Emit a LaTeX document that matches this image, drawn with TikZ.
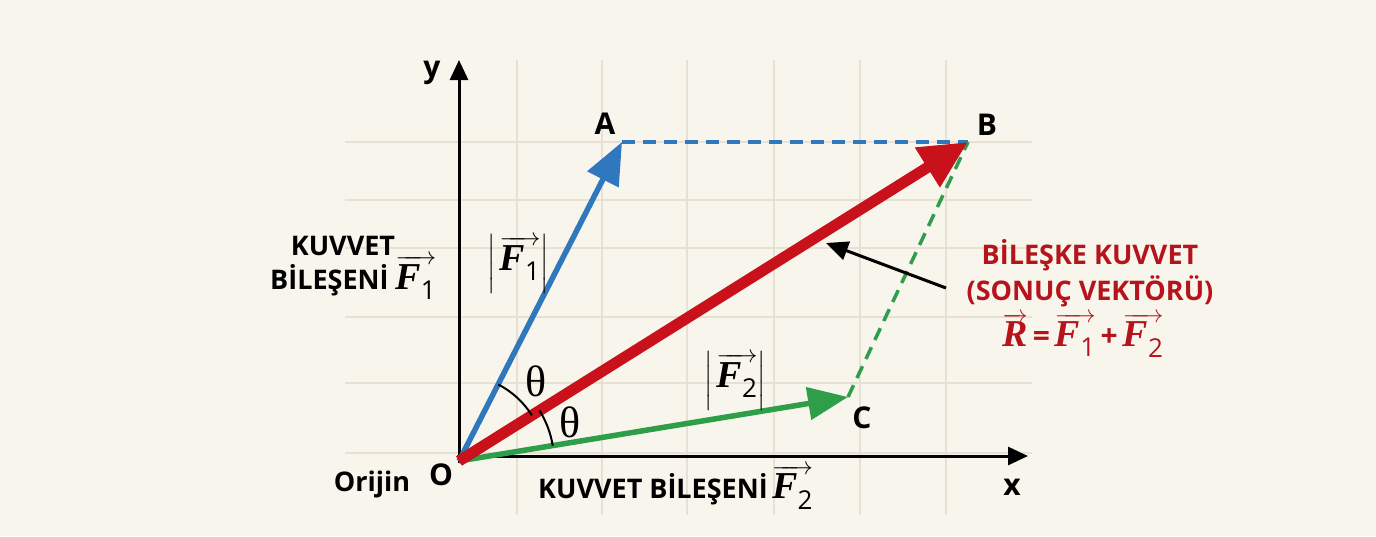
\documentclass[tikz,border=0pt]{standalone}
\usepackage{amsmath}
\usepackage{fontspec}
\setmainfont{Open Sans}
\newfontfamily\sbi{Liberation Serif}
\usetikzlibrary{arrows.meta}
\definecolor{bg}{HTML}{F8F5EC}
\definecolor{gridc}{HTML}{E7E0D3}
\definecolor{vblue}{HTML}{2F78BE}
\definecolor{vred}{HTML}{C8111B}
\definecolor{vgreen}{HTML}{2E9E4A}
\definecolor{tred}{HTML}{B5141C}
% #1 letter size, #2 subscript size, #3 subscript
\newcommand{\vF}[3]{$\overrightarrow{\text{\fontsize{#1}{#1}\selectfont\sbi\bfseries\itshape F}_{\text{\fontsize{#2}{#2}\selectfont\mdseries #3}}}$}
\newcommand{\vR}[1]{$\overrightarrow{\text{\fontsize{#1}{#1}\selectfont\sbi\bfseries\itshape R}}$}
\newcommand{\aF}[1]{$\left|\,\overrightarrow{\text{\fontsize{38}{38}\selectfont\sbi\bfseries\itshape F}_{\text{\fontsize{26}{26}\selectfont\mdseries #1}}}\right|$}
\tikzset{
  gridline/.style={gridc, line width=1.3pt},
  axis/.style={line width=3pt, -{Triangle[length=20pt,width=18pt]}},
  lbl/.style={font=\bfseries\fontsize{27}{30}\selectfont, inner sep=0pt},
  ptlbl/.style={font=\bfseries\fontsize{30}{32}\selectfont, inner sep=0pt},
  redtxt/.style={text=tred, font=\bfseries\fontsize{27}{30}\selectfont, inner sep=0pt},
  mlbl/.style={font=\fontsize{28}{32}\selectfont, inner sep=0pt},
  thetalbl/.style={font=\sbi\fontsize{44}{46}\selectfont, inner sep=0pt},
  anglearc/.style={line width=2pt, black},
}
\begin{document}
\begin{tikzpicture}[x=1pt,y=-1pt]
\fill[bg] (0,0) rectangle (1376,536);
\useasboundingbox (0,0) rectangle (1376,536);
% grid
\foreach \gx in {517,602,687,774,860,946} \draw[gridline] (\gx,60) -- (\gx,515);
\foreach \gy in {142,200,248,317,383,453} \draw[gridline] (345,\gy) -- (1032,\gy);
% points
\coordinate (O) at (459,461);
\coordinate (A) at (622,142);
\coordinate (B) at (968,142);
\coordinate (C) at (848,397);
\coordinate (ytip) at (459,60);
\coordinate (xtip) at (1028,456);
\coordinate (yb) at (459,463);
\coordinate (xb) at (457,456);
% axes
\draw[axis] (yb) -- (ytip);
\draw[axis] (xb) -- (xtip);
% dashed
\draw[vblue, line width=3.5pt, dash pattern=on 13pt off 8pt] (A) -- (B);
\draw[vgreen, line width=3.5pt, dash pattern=on 13pt off 8pt] (C) -- (B);
% vectors
\draw[vgreen, line width=5.5pt, -{Triangle[length=40pt,width=32pt]}] (O) -- (C);
\draw[vblue, line width=5.5pt, -{Triangle[length=42pt,width=34pt]}] (O) -- (A);
\draw[vred, line width=11pt, -{Triangle[length=48pt,width=44pt]}] (O) -- (B);
% angle arcs
\draw[anglearc] (O) ++(32.1:86pt) arc[start angle=32.1, end angle=62.9, radius=86pt];
\draw[anglearc] (O) ++(9.3:95pt) arc[start angle=9.3, end angle=32.1, radius=95pt];
\node[thetalbl] (th1) at (536,381) {θ};
\node[thetalbl] (th2) at (570,422) {θ};
% point labels
\node[ptlbl] (lA) at (605,124) {A};
\node[ptlbl] (lB) at (987,125) {B};
\node[ptlbl] (lC) at (862,418) {C};
\node[ptlbl] (lO) at (441,475) {O};
\node[lbl] (orj) at (372,484) {Orijin};
\node[ptlbl] (lx) at (1012,487) {x};
\node[ptlbl] (ly) at (432,73) {y};
% magnitude labels
\node[mlbl] (m1) at (518,264) {\aF{1}};
\node[mlbl] (m2) at (735,381) {\aF{2}};
% component labels
\node[lbl] (k1a) at (343,246) {KUVVET};
\node[lbl, anchor=west] (k1b) at (270,277) {BİLEŞENİ\ \vF{38}{26}{1}};
\node[lbl, anchor=west] (k2) at (538,487) {KUVVET BİLEŞENİ\,\vF{38}{26}{2}};
% resultant label
\node[redtxt] (r1) at (1090,255) {BİLEŞKE KUVVET};
\node[redtxt] (r2) at (1090,291) {(SONUÇ VEKTÖRÜ)};
\node[redtxt, font=\bfseries\fontsize{30}{34}\selectfont] (r3) at (1083,335) {\vR{38}\,=\,\vF{38}{26}{1}\,+\,\vF{38}{26}{2}};
\coordinate (cs) at (946,288);
\coordinate (ce) at (826,243);
\draw[line width=3pt, -{Triangle[length=22pt,width=19pt]}] (cs) -- (ce);
\end{tikzpicture}
\end{document}
